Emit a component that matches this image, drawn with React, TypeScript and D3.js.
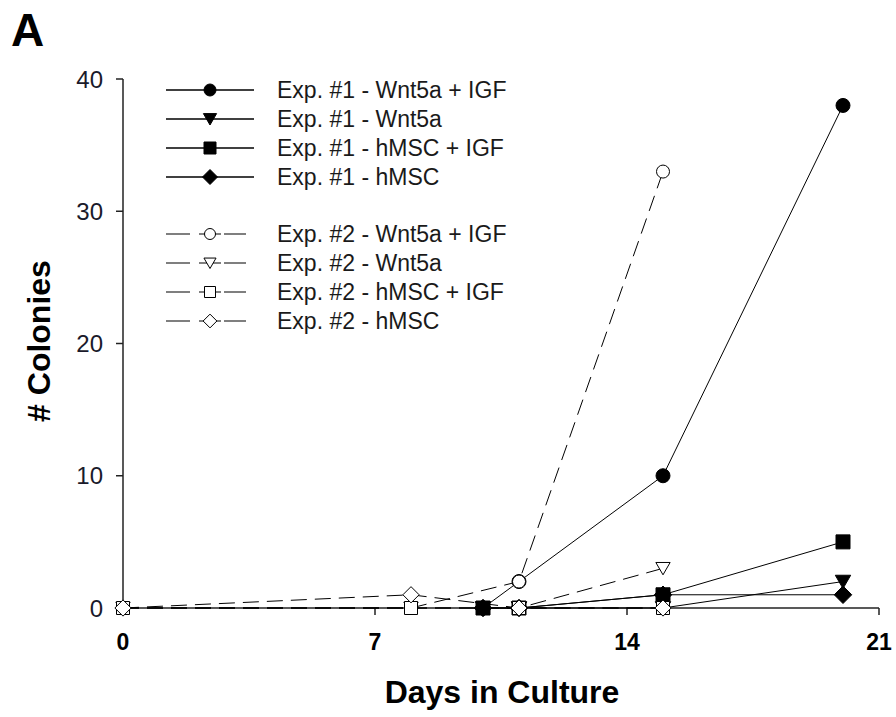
import React from 'react';
import * as d3 from 'd3';

// Exp. #1 (solid lines, filled markers)
const exp1Days = [10, 11, 15, 20];
const exp1WntIgf = [0, 2, 10, 38];
const exp1Wnt = [0, 0, 0, 2];
const exp1MscIgf = [0, 0, 1, 5];
const exp1Msc = [0, 0, 1, 1];

// Exp. #2 (dashed lines, open markers)
const exp2Days = [0, 8, 11, 15];
const exp2WntIgf = [0, 0, 2, 33];
const exp2Wnt = [0, 0, 0, 3];
const exp2MscIgf = [0, 0, 0, 0];
const exp2Msc = [0, 1, 0, 0];

const xTicks = [0, 7, 14, 21];
const yTicks = [0, 10, 20, 30, 40];
const shapes = ['circle', 'triangle', 'square', 'diamond'];
const labels1 = ['Exp. #1 - Wnt5a + IGF', 'Exp. #1 - Wnt5a', 'Exp. #1 - hMSC + IGF', 'Exp. #1 - hMSC'];
const labels2 = ['Exp. #2 - Wnt5a + IGF', 'Exp. #2 - Wnt5a', 'Exp. #2 - hMSC + IGF', 'Exp. #2 - hMSC'];

const width = 896;
const height = 717;
const font = 'Arial, "Liberation Sans", sans-serif';

const x = d3.scaleLinear().domain([0, 21]).range([123, 879]);
const y = d3.scaleLinear().domain([0, 40]).range([608, 79]);

// marker path centred on 0,0; s = rough half size
function markerPath(shape, s) {
  if (shape === 'circle') {
    return d3.symbol().type(d3.symbolCircle).size(Math.PI * s * s)();
  }
  if (shape === 'square') {
    return `M${-s},${-s}H${s}V${s}H${-s}Z`;
  }
  if (shape === 'diamond') {
    const d = s * 1.25;
    return `M0,${-d}L${d},0L0,${d}L${-d},0Z`;
  }
  // down triangle
  const w = s * 1.1;
  return `M${-w},${-s * 0.9}H${w}L0,${s * 1.0}Z`;
}

const Marker = ({ shape, cx, cy, filled, s }) => (
  <path
    d={markerPath(shape, s)}
    transform={`translate(${cx},${cy})`}
    fill={filled ? '#000' : '#fff'}
    stroke="#000"
    strokeWidth={1}
  />
);

export default function App() {
  const line = d3.line<any>().x((d) => x(d[0])).y((d) => y(d[1]));

  const series1 = [exp1WntIgf, exp1Wnt, exp1MscIgf, exp1Msc].map((vals) =>
    exp1Days.map((d, i) => [d, vals[i]])
  );
  const series2 = [exp2WntIgf, exp2Wnt, exp2MscIgf, exp2Msc].map((vals) =>
    exp2Days.map((d, i) => [d, vals[i]])
  );

  const dash = '16,8';

  return (
    <div style={{ position: 'absolute', left: 0, top: 0 }}>
      <svg width={width} height={height} style={{ display: 'block', fontFamily: font }}>
        <rect width={width} height={height} fill="#fff" />

        <text x={11} y={46} fontSize={46} fontWeight="bold">A</text>

        {/* axes */}
        <line x1={x(0)} x2={x(21)} y1={y(0)} y2={y(0)} stroke="#222" strokeWidth={1.5} />
        <line x1={x(0)} x2={x(0)} y1={y(0)} y2={y(40)} stroke="#222" strokeWidth={1.5} />
        {xTicks.map((t) => (
          <g key={'x' + t}>
            {t > 0 && <line x1={x(t)} x2={x(t)} y1={y(0)} y2={y(0) + 7} stroke="#222" strokeWidth={1.5} />}
            <text x={x(t)} y={650} fontSize={23} fontWeight="bold" textAnchor="middle">{t}</text>
          </g>
        ))}
        {yTicks.map((t) => (
          <g key={'y' + t}>
            {t > 0 && <line x1={x(0) - 7} x2={x(0)} y1={y(t)} y2={y(t)} stroke="#222" strokeWidth={1.5} />}
            <text x={103} y={y(t)} fontSize={24} textAnchor="end" dominantBaseline="central" fill="#1a1a2a">{t}</text>
          </g>
        ))}

        <text x={502} y={703} fontSize={32} fontWeight="bold" textAnchor="middle">Days in Culture</text>
        <text transform={`translate(50,341) rotate(-90)`} fontSize={32} fontWeight="bold" textAnchor="middle">
          # Colonies
        </text>

        {/* Exp 1 */}
        {series1.map((pts, i) => (
          <g key={'s1' + i}>
            <path d={line(pts)} fill="none" stroke="#000" strokeWidth={1} />
            {pts.map((p, j) => (
              <Marker key={j} shape={shapes[i]} cx={x(p[0])} cy={y(p[1])} filled s={7} />
            ))}
          </g>
        ))}
        {/* Exp 2 */}
        {series2.map((pts, i) => (
          <g key={'s2' + i}>
            <path d={line(pts)} fill="none" stroke="#000" strokeWidth={1} strokeDasharray={dash} />
            {pts.map((p, j) => (
              <Marker key={j} shape={shapes[i]} cx={x(p[0])} cy={y(p[1])} filled={false} s={6.5} />
            ))}
          </g>
        ))}

        {/* legend */}
        {labels1.map((lab, i) => {
          const ly = 90 + i * 29;
          return (
            <g key={'l1' + i}>
              <line x1={166} x2={254} y1={ly} y2={ly} stroke="#000" strokeWidth={1.5} />
              <Marker shape={shapes[i]} cx={210} cy={ly} filled s={6} />
              <text x={277} y={ly} fontSize={23} dominantBaseline="central" fill="#1a1a1a">{lab}</text>
            </g>
          );
        })}
        {labels2.map((lab, i) => {
          const ly = 234 + i * 29;
          return (
            <g key={'l2' + i}>
              <line x1={166} x2={248} y1={ly} y2={ly} stroke="#000" strokeWidth={1.2} strokeDasharray="24,9,22,3,22" />
              <Marker shape={shapes[i]} cx={210} cy={ly} filled={false} s={5.5} />
              <text x={277} y={ly} fontSize={23} dominantBaseline="central" fill="#1a1a1a">{lab}</text>
            </g>
          );
        })}
      </svg>
    </div>
  );
}
